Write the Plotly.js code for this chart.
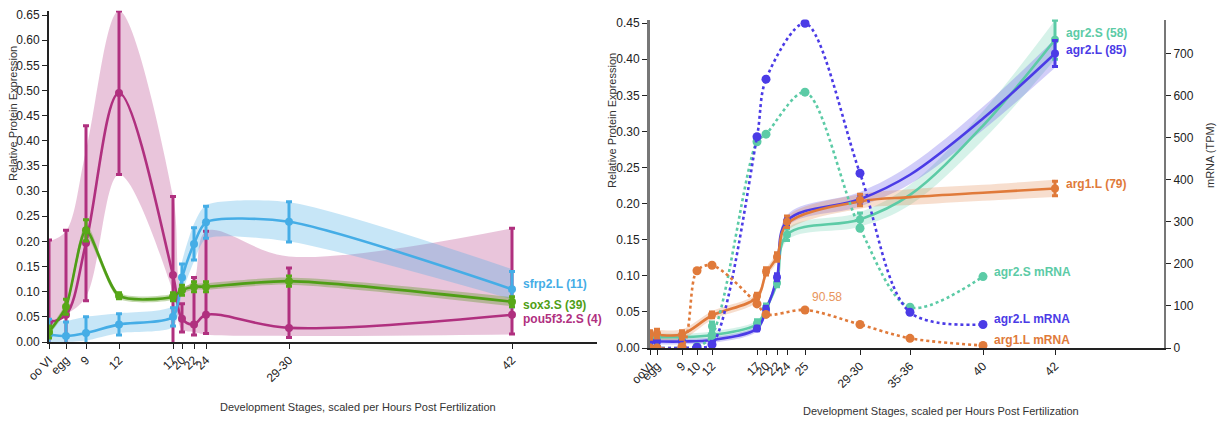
<!DOCTYPE html>
<html>
<head>
<meta charset="utf-8">
<script src="https://cdn.plot.ly/plotly-3.0.1.min.js"></script>
<style>
html,body{margin:0;padding:0;background:#fff;}
#chart{width:1225px;height:421px;}
</style>
</head>
<body>
<div id="chart"></div>
<script>
// ---------- LEFT PANEL DATA ----------
const leftStages = ['oo VI','egg','9','12','17','20','22','24','29-30','42'];
const leftHours  = [0, 1.7, 3.7, 7.0, 12.4, 13.3, 14.5, 15.7, 24.0, 46.3];

const sfrp2Mean = [0.015,0.012,0.018,0.035,0.050,0.128,0.195,0.238,0.239,0.105];
const sfrp2Err  = [0.030,0.028,0.032,0.021,0.018,0.027,0.032,0.032,0.040,0.035];
const sfrp2Lo   = [0.000,0.000,0.003,0.018,0.030,0.097,0.160,0.205,0.200,0.085];
const sfrp2Hi   = [0.045,0.042,0.050,0.057,0.072,0.160,0.235,0.272,0.278,0.145];

const sox3Mean = [0.020,0.070,0.222,0.092,0.090,0.103,0.110,0.110,0.121,0.080];
const sox3Err  = [0.012,0.015,0.021,0.006,0.008,0.010,0.010,0.010,0.010,0.010];
const sox3Lo   = [0.014,0.062,0.210,0.086,0.084,0.097,0.104,0.104,0.114,0.071];
const sox3Hi   = [0.026,0.078,0.234,0.098,0.096,0.109,0.116,0.117,0.128,0.089];

const pouMean    = [0.040,0.054,0.197,0.495,0.133,0.046,0.035,0.054,0.028,0.054];
const pouErrUp   = [0.163,0.168,0.233,0.163,0.156,0.030,0.093,0.166,0.119,0.172];
const pouErrDown = [0.160,0.160,0.115,0.162,0.156,0.026,0.021,0.037,0.019,0.038];
const pouLo      = [0.040,0.055,0.090,0.333,0.100,0.025,0.020,0.015,0.012,0.015];
const pouHi      = [0.200,0.220,0.380,0.658,0.290,0.110,0.125,0.220,0.170,0.226];

// ---------- RIGHT PANEL DATA ----------
const rightStages = ['ooVI','egg','9','10','12','17','20','22','24','25','29-30','35-36','40','42'];
const rightHours  = [0, 0.7, 3.2, 4.7, 6.2, 10.7, 11.6, 12.7, 13.7, 15.5, 21.0, 26.0, 33.3, 40.5];

const protStages = ['ooVI','egg','9','12','17','20','22','24','29-30','42'];
const arg1Mean = [0.018,0.020,0.018,0.046,0.072,0.106,0.126,0.175,0.205,0.221];
const arg1Err  = [0.006,0.006,0.006,0.004,0.004,0.005,0.006,0.008,0.008,0.010];
const agr2LMean = [0.009,0.009,0.009,0.011,0.027,0.053,0.098,0.176,0.205,0.408];
const agr2LErr  = [0.003,0.003,0.003,0.004,0.003,0.005,0.005,0.006,0.007,0.018];
const agr2SMean = [0.015,0.015,0.015,0.030,0.034,0.056,0.090,0.157,0.178,0.427];
const agr2SErr  = [0.004,0.004,0.004,0.006,0.005,0.005,0.005,0.008,0.009,0.027];

const fitStages = ['ooVI','egg','9','12','17','20','22','24','29-30','35-36','40','42'];
const arg1Fit   = [0.018,0.018,0.019,0.045,0.070,0.103,0.126,0.172,0.203,0.209,0.215,0.221];
const arg1Ci    = [0.007,0.007,0.007,0.006,0.006,0.006,0.007,0.010,0.010,0.011,0.011,0.012];
const agr2LFit  = [0.009,0.009,0.009,0.011,0.027,0.052,0.097,0.176,0.206,0.240,0.318,0.408];
const agr2LCi   = [0.004,0.004,0.004,0.004,0.004,0.005,0.005,0.008,0.010,0.013,0.016,0.020];
const agr2SFit  = [0.015,0.015,0.015,0.018,0.033,0.055,0.090,0.157,0.178,0.212,0.308,0.427];
const agr2SCi   = [0.005,0.005,0.005,0.005,0.005,0.005,0.006,0.008,0.010,0.014,0.020,0.027];

const mrnaStages = ['ooVI','egg','9','10','12','17','20','25','29-30','35-36','40'];
const agr2LMrna = [0,0,0,2,8,503,640,773,416,85,56];
const agr2SMrna = [0,0,0,3,30,491,509,609,285,97,170];
const arg1Mrna  = [0,0,3,184,197,105,80,90.58,56,23,6];

// ---------- helpers ----------
const FONT = 'Liberation Sans, Arial, Helvetica, sans-serif';
const hourOf = {};
rightStages.forEach((s,i)=>{hourOf[s]=rightHours[i];});
const hx = arr => arr.map(s=>hourOf[s]);

const traces = [];
function band(x, lo, hi, fill, xa, ya, sm){
  const s = (sm===undefined)?1:sm;
  traces.push({x:x, y:lo, xaxis:xa, yaxis:ya, mode:'lines', line:{width:0, shape:'spline', smoothing:s},
    hoverinfo:'skip', showlegend:false});
  traces.push({x:x, y:hi, xaxis:xa, yaxis:ya, mode:'lines', line:{width:0, shape:'spline', smoothing:s},
    fill:'tonexty', fillcolor:fill, hoverinfo:'skip', showlegend:false});
}
function lineT(x, y, color, xa, ya, sm){
  traces.push({x:x, y:y, xaxis:xa, yaxis:ya, mode:'lines',
    line:{color:color, width:2.6, shape:'spline', smoothing:(sm===undefined)?1:sm},
    showlegend:false, hoverinfo:'skip'});
}
function pts(x, y, up, down, color, xa, ya){
  traces.push({x:x, y:y, xaxis:xa, yaxis:ya, mode:'markers',
    marker:{color:color, size:8},
    error_y:{type:'data', array:up, arrayminus:down||up, symmetric:false, color:color, thickness:3, width:3},
    showlegend:false});
}

// ---------- LEFT PANEL TRACES ----------
const cPou = '#b0307f', cSfrp = '#45ade6', cSox = '#4f9e16';
band(leftHours, pouLo, pouHi, 'rgba(176,48,127,0.28)', 'x', 'y', 1);
band(leftHours, sfrp2Lo, sfrp2Hi, 'rgba(69,173,230,0.30)', 'x', 'y', 0.7);
band(leftHours, sox3Lo, sox3Hi, 'rgba(90,150,30,0.35)', 'x', 'y', 0.7);
lineT(leftHours, pouMean, cPou, 'x', 'y', 1);
pts(leftHours, pouMean, pouErrUp, pouErrDown, cPou, 'x', 'y');
lineT(leftHours, sfrp2Mean, cSfrp, 'x', 'y', 0.7);
pts(leftHours, sfrp2Mean, sfrp2Err, sfrp2Err, cSfrp, 'x', 'y');
lineT(leftHours, sox3Mean, cSox, 'x', 'y', 0.7);
pts(leftHours, sox3Mean, sox3Err, sox3Err, '#58a818', 'x', 'y');

// ---------- RIGHT PANEL TRACES ----------
const cArg = '#e07a3a', cAgrL = '#4b3be6', cAgrS = '#5ccba6';
const fx = hx(fitStages), px = hx(protStages), mx = hx(mrnaStages);
const lo = (f,c)=>f.map((v,i)=>v-c[i]);
const hi = (f,c)=>f.map((v,i)=>v+c[i]);
band(fx, lo(agr2SFit,agr2SCi), hi(agr2SFit,agr2SCi), 'rgba(92,203,166,0.25)', 'x2', 'y2');
band(fx, lo(agr2LFit,agr2LCi), hi(agr2LFit,agr2LCi), 'rgba(75,59,230,0.25)', 'x2', 'y2');
band(fx, lo(arg1Fit,arg1Ci), hi(arg1Fit,arg1Ci), 'rgba(224,122,58,0.25)', 'x2', 'y2');
lineT(fx, agr2SFit, cAgrS, 'x2', 'y2');
lineT(fx, agr2LFit, cAgrL, 'x2', 'y2');
lineT(fx, arg1Fit, cArg, 'x2', 'y2');
pts(px, agr2SMean, agr2SErr, agr2SErr, cAgrS, 'x2', 'y2');
pts(px, agr2LMean, agr2LErr, agr2LErr, cAgrL, 'x2', 'y2');
pts(px, arg1Mean, arg1Err, arg1Err, cArg, 'x2', 'y2');
// mRNA dotted
[[agr2SMrna,cAgrS],[agr2LMrna,cAgrL],[arg1Mrna,cArg]].forEach(([v,c])=>{
  traces.push({x:mx, y:v, xaxis:'x2', yaxis:'y3', mode:'lines+markers',
    line:{color:c, width:2.6, dash:'dot', shape:'spline', smoothing:0.9},
    marker:{color:c, size:9}, showlegend:false});
});

// ---------- annotations ----------
const last = a => a[a.length-1];
const ann = [];
function lab(text, x, y, color, xa, ya, ys){
  ann.push({text:text, x:x, y:y, xref:xa, yref:ya, xanchor:'left', yanchor:'middle',
    xshift:9, yshift:ys, showarrow:false, font:{family:FONT, size:12, color:color, weight:'bold'}});
}
lab('sfrp2.L (11)', last(leftHours), last(sfrp2Mean), cSfrp, 'x', 'y', 5);
lab('sox3.S (39)', last(leftHours), last(sox3Mean), '#4f9e16', 'x', 'y', -3);
lab('pou5f3.2.S (4)', last(leftHours), last(pouMean), cPou, 'x', 'y', -4);
lab('agr2.S (58)', hourOf['42'], last(agr2SMean), cAgrS, 'x2', 'y2', 7);
lab('agr2.L (85)', hourOf['42'], last(agr2LMean), cAgrL, 'x2', 'y2', 3);
lab('arg1.L (79)', hourOf['42'], last(arg1Mean), cArg, 'x2', 'y2', 4);
lab('agr2.S mRNA', hourOf['40'], last(agr2SMrna), cAgrS, 'x2', 'y3', 5);
lab('agr2.L mRNA', hourOf['40'], last(agr2LMrna), cAgrL, 'x2', 'y3', 5);
lab('arg1.L mRNA', hourOf['40'], last(arg1Mrna), cArg, 'x2', 'y3', 5);
ann.push({text:String(arg1Mrna[mrnaStages.indexOf('25')]), x:hourOf['25'], y:arg1Mrna[mrnaStages.indexOf('25')],
  xref:'x2', yref:'y3', xshift:22, yshift:13, showarrow:false, font:{family:FONT, size:12, color:'#e8955c'}});
// axis titles
const tfont = {family:FONT, size:11, color:'#333'};
function title(text, px, py, rot){
  ann.push({text:text, xref:'paper', yref:'paper', x:px/1225, y:1-py/421, xanchor:'center', yanchor:'middle',
    textangle:rot, showarrow:false, font:tfont});
}
title('Relative Protein Expression', 13, 114, -90);
title('Relative Protein Expression', 612, 121, -90);
title('mRNA (TPM)', 1210, 156, -90);
title('Development Stages, scaled per Hours Post Fertilization', 358, 407, 0);
title('Development Stages, scaled per Hours Post Fertilization', 941, 411, 0);

const tickFont = {family:FONT, size:12, color:'#222'};
const baseX = {showgrid:false, zeroline:false, showline:true, linecolor:'#222', linewidth:1.5,
  ticks:'outside', ticklen:5, tickcolor:'#222', tickangle:-45, tickfont:tickFont, tickmode:'array'};
const baseY = {showgrid:false, zeroline:false, showline:true, linewidth:2,
  ticks:'outside', ticklen:5, tickfont:tickFont, tickformat:'.2f', dtick:0.05, tick0:0};

const layout = {
  width:1225, height:421, margin:{l:0,r:0,t:0,b:0}, paper_bgcolor:'#fff', plot_bgcolor:'rgba(0,0,0,0)',
  showlegend:false, font:{family:FONT},
  xaxis: Object.assign({}, baseX, {domain:[49/1225, 597/1225], range:[0,54.8], anchor:'y',
    tickvals:leftHours, ticktext:leftStages}),
  yaxis: Object.assign({}, baseY, {domain:[(421-342)/421, (421-10.7)/421], range:[0,0.6586], anchor:'x',
    linecolor:'#222', tickcolor:'#222'}),
  xaxis2: Object.assign({}, baseX, {domain:[650/1225, 1164/1225], range:[0,51.4], anchor:'y2',
    tickvals:rightHours, ticktext:rightStages}),
  yaxis2: Object.assign({}, baseY, {domain:[(421-348)/421, (421-19.5)/421], range:[0,0.455], anchor:'x2',
    linecolor:'#777', tickcolor:'#222', linewidth:3}),
  yaxis3: {overlaying:'y2', side:'right', anchor:'x2', range:[0,782], showgrid:false, zeroline:false,
    showline:true, linecolor:'#777', linewidth:2, ticks:'outside', ticklen:5, tickcolor:'#222',
    tickfont:tickFont, dtick:100, tick0:0},
  annotations: ann
};
Plotly.newPlot('chart', traces, layout, {staticPlot:true, displayModeBar:false});
</script>
</body>
</html>
